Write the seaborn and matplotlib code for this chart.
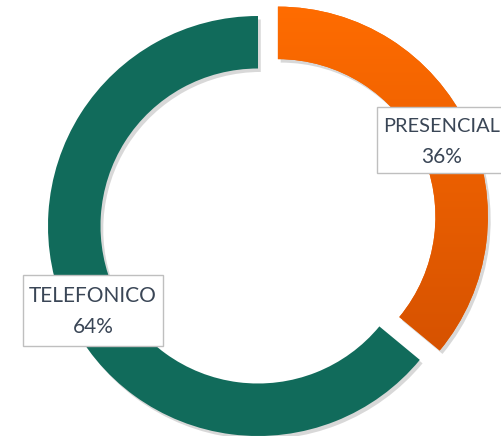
import numpy as np
import matplotlib
matplotlib.use("Agg")
import matplotlib.pyplot as plt
import matplotlib.patches as mpatches
import matplotlib.patheffects as pe
from matplotlib.colors import LinearSegmentedColormap
import seaborn as sns

# Share of attention by channel
categories = ["PRESENCIAL", "TELEFONICO"]
shares = [36, 64]
share_labels = ["36%", "64%"]

sns.set_theme(style="white")
plt.rcParams["font.family"] = ["Lato", "DejaVu Sans"]

W, H = 501, 436
CX, CY = 258, 226      # ring centre (pixels)
R = 210                # ring outer radius (pixels)

TEAL = "#116B5B"
ORANGE = "#F26300"
TEXT = "#3A4656"


def px(x, y):
    """Convert pixel position to data units (ring radius = 1)."""
    return (x - CX) / R, (CY - y) / R


fig = plt.figure(figsize=(W / 100, H / 100), dpi=100)
ax = fig.add_axes([0, 0, 1, 1])

wedges, _ = ax.pie(
    shares,
    colors=[ORANGE, TEAL],
    startangle=90,
    counterclock=False,
    radius=1,
    explode=[22 / R, 0],
    wedgeprops=dict(width=0.25, linewidth=0),
)
for w in wedges:
    w.set_path_effects([
        pe.SimplePatchShadow(offset=(2, -2.5), shadow_rgbFace="#808080", alpha=0.3),
        pe.Normal(),
    ])

# vertical gradient fill for the orange segment
cmap = LinearSegmentedColormap.from_list("orange_grad", ["#FF6C00", "#D65200"])
grad = np.linspace(0, 1, 256).reshape(-1, 1)
gx0, gy0 = px(260, 5)
gx1, gy1 = px(500, 355)
im = ax.imshow(grad, cmap=cmap, extent=(gx0, gx1, gy1, gy0), origin="upper",
               aspect="auto", zorder=wedges[0].get_zorder() + 0.1)
im.set_clip_path(wedges[0])


def label_box(left, top, right, bottom, cx, name, pct, base1, base2, size):
    x0, y0 = px(left, bottom)
    x1, y1 = px(right, top)
    ax.add_patch(mpatches.Rectangle((x0, y0), x1 - x0, y1 - y0,
                                    facecolor="white", edgecolor="#BFBFBF",
                                    linewidth=1.0, zorder=5))
    ax.text(*px(cx, base1), name, ha="center", va="baseline",
            fontsize=size, color=TEXT, zorder=6)
    ax.text(*px(cx, base2), pct, ha="center", va="baseline",
            fontsize=15, color=TEXT, zorder=6)


label_box(377, 107, 509, 173, 442, categories[0], share_labels[0], 132, 163, 14.4)
label_box(23, 275, 163, 346, 93, categories[1], share_labels[1], 302, 333, 15)

ax.set_xlim(px(0, 0)[0], px(W, 0)[0])
ax.set_ylim(px(0, H)[1], px(0, 0)[1])
ax.set_aspect("auto")
ax.axis("off")

fig.savefig("out.png", dpi=100)
